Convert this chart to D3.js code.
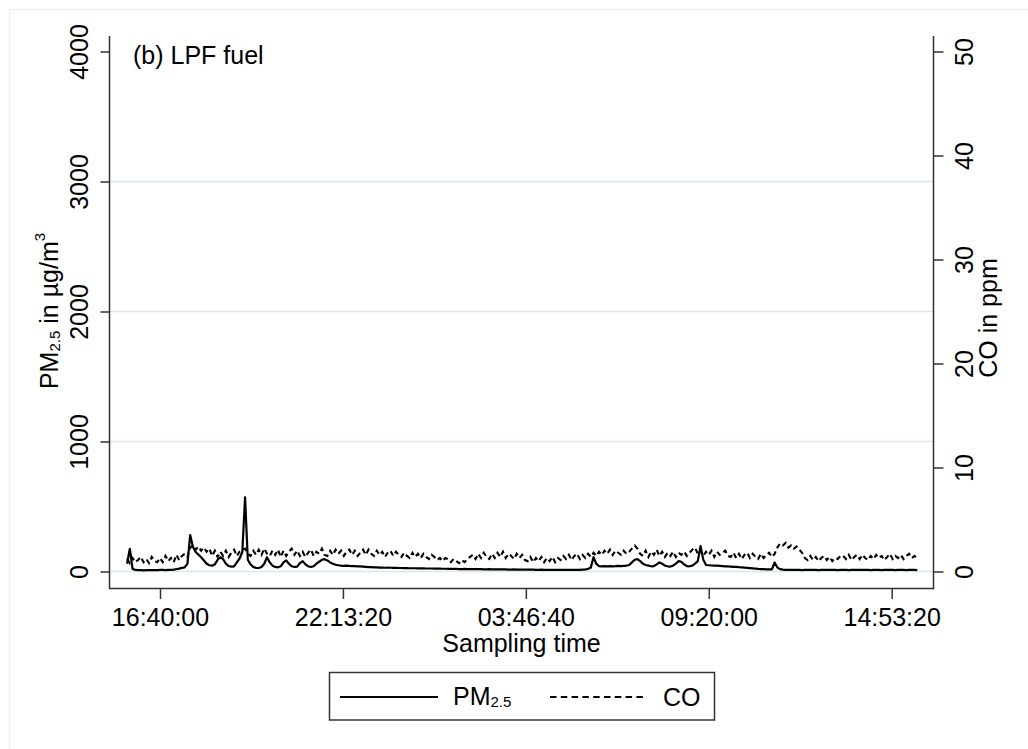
<!DOCTYPE html>
<html>
<head>
<meta charset="utf-8">
<script src="https://cdn.jsdelivr.net/npm/d3@7"></script>
<style>
  html, body { margin: 0; padding: 0; background: #ffffff; }
  svg { display: block; }
  text { font-family: "Liberation Sans", Arial, sans-serif; fill: #000; }
</style>
</head>
<body>
<svg id="chart" width="1028" height="749"></svg>
<script>
// ---------------- data ----------------
const chartTitle = "(b) LPF fuel";
const seriesNames = ["PM2.5", "CO"];
// sampling clock: first reading 15:40:00, one reading every 5 minutes (seconds of day, continuing past midnight)
const startSec = 56400;
const stepSec = 300;

const pm25 = [
  60, 175, 20, 12, 10, 10, 9, 10, 11, 10,
  10, 11, 12, 12, 11, 12, 13, 15, 18, 22,
  28, 32, 60, 280, 190, 150, 130, 110, 85, 60,
  48, 45, 55, 90, 110, 95, 60, 42, 38, 40,
  70, 100, 150, 570, 90, 55, 35, 28, 27, 35,
  60, 110, 70, 45, 35, 32, 40, 70, 85, 60,
  40, 35, 38, 65, 80, 55, 40, 35, 40, 60,
  75, 90, 95, 85, 70, 60, 52, 48, 45, 44,
  45, 43, 42, 42, 40, 40, 38, 36, 34, 33,
  32, 31, 30, 30, 29, 30, 29, 28, 28, 27,
  27, 26, 26, 25, 25, 25, 24, 24, 24, 23,
  23, 23, 22, 22, 22, 21, 21, 20, 20, 21,
  20, 19, 19, 20, 19, 18, 18, 19, 18, 18,
  17, 17, 18, 17, 16, 16, 17, 16, 16, 15,
  15, 16, 15, 15, 14, 14, 15, 14, 14, 13,
  13, 14, 13, 13, 12, 13, 12, 12, 13, 12,
  12, 12, 13, 12, 12, 13, 14, 15, 20, 30,
  110, 60, 42, 40, 41, 40, 42, 40, 41, 43,
  42, 44, 45, 50, 70, 90, 95, 80, 60, 50,
  45, 40, 42, 55, 70, 60, 45, 40, 38, 45,
  60, 80, 75, 55, 42, 40, 45, 60, 80, 196,
  90, 50, 48, 46, 45, 45, 44, 42, 40, 40,
  38, 36, 35, 33, 32, 30, 28, 26, 24, 22,
  20, 19, 18, 17, 16, 16, 70, 30, 18, 14,
  13, 12, 12, 13, 12, 12, 11, 12, 12, 13,
  12, 12, 11, 12, 12, 12, 13, 12, 12, 11,
  12, 12, 12, 11, 12, 12, 12, 13, 12, 12,
  12, 11, 12, 12, 12, 11, 12, 12, 12, 12,
  11, 12, 12, 12, 11, 12, 12, 12, 11
];

const co = [
  1.2, 0.8, 1.3, 0.9, 1.1, 1.4, 0.9, 1.2, 0.8, 1.4,
  1.0, 0.9, 1.3, 0.9, 1.5, 1.0, 1.3, 0.9, 1.6, 1.1,
  1.5, 1.7, 1.4,
  2.3, 2.5, 2.1, 2.4, 2.0, 2.3, 1.9, 2.2,
  1.5, 2.0, 1.4, 1.9, 1.5, 2.0, 1.4, 1.8, 2.1, 1.5, 1.9, 2.1,
  2.2, 1.7, 1.5, 2.0, 1.6, 2.1, 1.6, 2.2, 1.7, 1.5,
  2.0, 1.6, 2.1, 1.4, 2.0, 1.5, 1.9, 2.2, 1.6, 2.0,
  1.5, 1.9, 1.4, 1.8, 2.1, 1.5, 1.9, 1.7, 2.2, 1.6,
  1.5, 2.0,
  1.6, 2.1, 1.7, 2.0, 1.5, 1.9, 2.1, 1.6, 2.0, 1.5,
  1.8, 2.1, 1.6, 2.1, 1.7, 1.5, 2.0, 1.6, 1.9, 1.4,
  1.8, 2.0, 1.5, 1.9, 1.6,
  1.4, 1.8, 1.5, 1.3, 1.8, 1.4, 1.7, 1.3, 1.7, 1.4,
  1.2, 1.6, 1.4, 1.1,
  1.3, 1.0, 1.3, 1.2, 0.9, 1.2, 1.0, 0.8, 1.1, 0.9, 1.2, 1.4,
  1.6, 1.2, 1.7, 1.3, 1.8, 1.4, 1.2, 1.7, 1.3, 1.8,
  1.4, 1.9, 1.3, 1.7, 1.5, 1.2, 1.7, 1.3, 1.6, 1.1,
  1.0, 1.4, 0.9, 1.3, 1.0, 1.4, 0.9, 1.3, 1.0, 1.4,
  0.9, 1.3, 1.1,
  1.5, 1.2, 1.6, 1.1, 1.5, 1.7, 1.2, 1.6, 1.3, 1.7,
  1.4, 1.8, 1.5,
  1.9, 1.6, 2.0, 1.7, 2.1, 1.6, 2.0, 1.8, 1.6, 2.0, 1.7, 1.9,
  2.2, 2.5, 2.2,
  1.7, 1.5, 2.0, 1.4, 1.9, 1.6, 2.1, 1.5, 1.9, 1.4,
  1.8, 1.5, 1.9, 1.4, 1.8, 1.6, 1.9, 1.5, 1.8, 2.1, 2.3, 1.7,
  2.0, 1.5, 1.9, 1.6, 2.0, 1.4, 1.9, 1.6, 1.8, 2.0, 1.5,
  1.4, 1.8, 1.3, 1.7, 1.2, 1.6, 1.8, 1.3, 1.7, 1.4,
  1.2, 1.7, 1.3, 1.6, 1.8, 1.4, 1.7,
  2.3, 2.7, 2.5, 2.75, 2.3, 2.5, 2.2, 2.4, 2.1, 1.8,
  1.3, 1.1, 1.5, 1.1, 1.4, 1.0, 1.3, 1.5, 1.1, 1.4,
  1.0, 1.3, 1.2, 1.5,
  1.5, 1.2, 1.6, 1.1, 1.4, 1.6, 1.2, 1.6, 1.3, 1.1,
  1.5, 1.2, 1.6, 1.3, 1.5, 1.1, 1.4, 1.7, 1.2, 1.5,
  1.3, 1.6, 1.2, 1.5, 1.7, 1.3, 1.5, 1.2
];

const xTickSeconds = [60000, 80000, 100000, 120000, 140000];
const xTickLabels = ["16:40:00", "22:13:20", "03:46:40", "09:20:00", "14:53:20"];
const yLeftTicks = [0, 1000, 2000, 3000, 4000];
const yLeftGrid = [0, 1000, 2000, 3000];
const yRightTicks = [0, 10, 20, 30, 40, 50];

// ---------------- layout ----------------
const svg = d3.select("#chart");
const FS = 25;
const plot = { left: 109.5, right: 933.5, top: 36, bottom: 588.5 };

const x = d3.scaleLinear().domain([60000, 140000]).range([160, 891.7]);
const yL = d3.scaleLinear().domain([0, 4000]).range([571.5, 51.5]);
const yR = d3.scaleLinear().domain([0, 50]).range([571.5, 51.5]);

// outer faint frame
svg.append("rect").attr("x", 0).attr("y", 0).attr("width", 1028).attr("height", 749).attr("fill", "#fff");
svg.append("line").attr("x1", 9.5).attr("x2", 1028).attr("y1", 9.5).attr("y2", 9.5)
   .attr("stroke", "#e8eef1").attr("stroke-width", 1.5);
svg.append("line").attr("x1", 9.5).attr("x2", 9.5).attr("y1", 9.5).attr("y2", 749)
   .attr("stroke", "#e8eef1").attr("stroke-width", 1.5);

// gridlines
svg.append("g").selectAll("line").data(yLeftGrid).join("line")
  .attr("x1", plot.left).attr("x2", plot.right)
  .attr("y1", d => yL(d)).attr("y2", d => yL(d))
  .attr("stroke", "#dbe8ea").attr("stroke-width", 1.6);

// data lines
const times = pm25.map((_, i) => startSec + i * stepSec);
const linePM = d3.line().x((d, i) => x(times[i])).y(d => yL(d));
const lineCO = d3.line().x((d, i) => x(times[i])).y(d => yR(d));

svg.append("path").datum(co).attr("d", lineCO)
  .attr("fill", "none").attr("stroke", "#000").attr("stroke-width", 2.1)
  .attr("stroke-dasharray", "5,3.5");
svg.append("path").datum(pm25).attr("d", linePM)
  .attr("fill", "none").attr("stroke", "#000").attr("stroke-width", 2.2)
  .attr("stroke-linejoin", "round");

// axes
const axisColor = "#333";
function styleAxis(g) {
  g.select(".domain").remove();
  g.selectAll(".tick line").attr("stroke", axisColor).attr("stroke-width", 1.5);
  g.selectAll(".tick text").attr("font-size", FS).attr("fill", "#000")
    .style("font-family", "'Liberation Sans', Arial, sans-serif");
}

const gL = svg.append("g").attr("transform", `translate(${plot.left},0)`)
  .call(d3.axisLeft(yL).tickValues(yLeftTicks).tickSize(9).tickFormat(d3.format("d")));
styleAxis(gL);
gL.selectAll(".tick text").attr("transform", "rotate(-90)")
  .attr("x", 0).attr("y", -22).attr("dy", 0).attr("text-anchor", "middle");

const gR = svg.append("g").attr("transform", `translate(${plot.right},0)`)
  .call(d3.axisRight(yR).tickValues(yRightTicks).tickSize(10).tickFormat(d3.format("d")));
styleAxis(gR);
gR.selectAll(".tick text").attr("transform", "rotate(-90)")
  .attr("x", 0).attr("y", 39.5).attr("dy", 0).attr("text-anchor", "middle");

const gB = svg.append("g").attr("transform", `translate(0,${plot.bottom})`)
  .call(d3.axisBottom(x).tickValues(xTickSeconds).tickSize(10.5)
        .tickFormat((d, i) => xTickLabels[i]));
styleAxis(gB);
gB.selectAll(".tick text").attr("y", 37.5).attr("dy", 0);

// axis lines
svg.append("line").attr("x1", plot.left).attr("x2", plot.left).attr("y1", plot.top).attr("y2", plot.bottom + 0.75)
  .attr("stroke", axisColor).attr("stroke-width", 1.5);
svg.append("line").attr("x1", plot.right).attr("x2", plot.right).attr("y1", plot.top).attr("y2", plot.bottom + 0.75)
  .attr("stroke", axisColor).attr("stroke-width", 1.5);
svg.append("line").attr("x1", plot.left).attr("x2", plot.right).attr("y1", plot.bottom).attr("y2", plot.bottom)
  .attr("stroke", axisColor).attr("stroke-width", 1.5);

// titles
svg.append("text").attr("x", 133).attr("y", 63.5).attr("font-size", FS).text(chartTitle);

svg.append("text").attr("x", 521.5).attr("y", 652).attr("font-size", FS)
  .attr("text-anchor", "middle").text("Sampling time");

const yt = svg.append("text").attr("transform", "translate(58,311) rotate(-90)")
  .attr("font-size", FS).attr("text-anchor", "middle");
yt.append("tspan").text("PM");
yt.append("tspan").attr("font-size", 15).attr("dy", 2).text("2.5");
yt.append("tspan").attr("dy", -2).text(" in µg/m");
yt.append("tspan").attr("font-size", 15).attr("dy", -13).text("3");

svg.append("text").attr("transform", "translate(997,318) rotate(-90)")
  .attr("font-size", FS).attr("text-anchor", "middle").text("CO in ppm");

// legend
const lg = svg.append("g");
lg.append("rect").attr("x", 329.5).attr("y", 672.5).attr("width", 385).attr("height", 47.5)
  .attr("fill", "#fff").attr("stroke", "#333").attr("stroke-width", 1.5);
lg.append("line").attr("x1", 340).attr("x2", 438).attr("y1", 697).attr("y2", 697)
  .attr("stroke", "#000").attr("stroke-width", 2);
const lt = lg.append("text").attr("x", 453).attr("y", 704.5).attr("font-size", FS);
lt.append("tspan").text("PM");
lt.append("tspan").attr("font-size", 15).attr("dy", 2).text("2.5");
lg.append("line").attr("x1", 550).attr("x2", 647).attr("y1", 697).attr("y2", 697)
  .attr("stroke", "#000").attr("stroke-width", 2).attr("stroke-dasharray", "6.5,4.3");
lg.append("text").attr("x", 663).attr("y", 705.5).attr("font-size", FS).text("CO");
</script>
</body>
</html>
